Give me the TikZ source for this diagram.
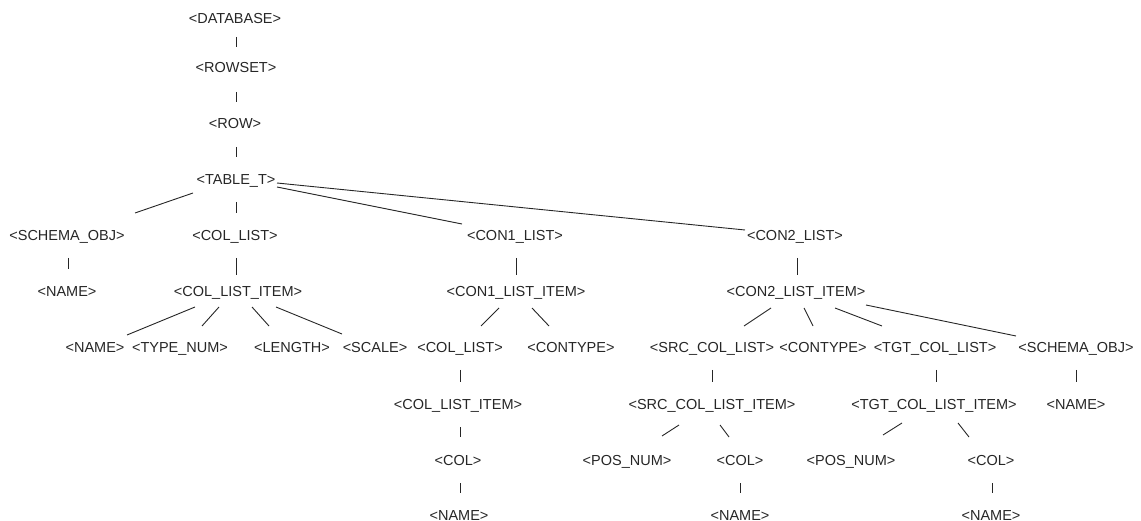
\documentclass[tikz,border=0pt]{standalone}
\usepackage{fontspec}
\setmainfont{Liberation Sans}
\definecolor{ink}{gray}{0.15}
\newcommand{\cn}[6]{\draw[edge] ([shift={(#2,#3)}]#1.center) -- ([shift={(#5,#6)}]#4.center);}
\begin{document}
\begin{tikzpicture}[x=1pt,y=-1pt,
  lbl/.style={inner sep=0pt,text height=10pt,text depth=0pt,anchor=center,text=ink,font=\fontsize{14.5}{16}\selectfont},
  edge/.style={draw=ink,line width=0.9pt}]
\useasboundingbox (0,0) rectangle (1141,521);
% row 0-3
\node[lbl] (db) at (235,19) {<DATABASE>};
\node[lbl] (rowset) at (236,68) {<ROWSET>};
\node[lbl] (row) at (235,124) {<ROW>};
\node[lbl] (tablet) at (236,180) {<TABLE\_T>};
% row 4
\node[lbl] (schema1) at (67,236) {<SCHEMA\_OBJ>};
\node[lbl] (collist1) at (235,236) {<COL\_LIST>};
\node[lbl] (con1) at (515,236) {<CON1\_LIST>};
\node[lbl] (con2) at (795,236) {<CON2\_LIST>};
% row 5
\node[lbl] (name1) at (67,292) {<NAME>};
\node[lbl] (colitem1) at (238,292) {<COL\_LIST\_ITEM>};
\node[lbl] (con1item) at (516,292) {<CON1\_LIST\_ITEM>};
\node[lbl] (con2item) at (796,292) {<CON2\_LIST\_ITEM>};
% row 6
\node[lbl] (nameA) at (95,348) {<NAME>};
\node[lbl] (typenum) at (180,348) {<TYPE\_NUM>};
\node[lbl] (length) at (292,348) {<LENGTH>};
\node[lbl] (scale) at (375,348) {<SCALE>};
\node[lbl] (collist2) at (460,348) {<COL\_LIST>};
\node[lbl] (contype1) at (571,348) {<CONTYPE>};
\node[lbl] (srclist) at (712,348) {<SRC\_COL\_LIST>};
\node[lbl] (contype2) at (823,348) {<CONTYPE>};
\node[lbl] (tgtlist) at (935,348) {<TGT\_COL\_LIST>};
\node[lbl] (schema2) at (1076,348) {<SCHEMA\_OBJ>};
% row 7
\node[lbl] (colitem2) at (458,404) {<COL\_LIST\_ITEM>};
\node[lbl] (srcitem) at (712,404) {<SRC\_COL\_LIST\_ITEM>};
\node[lbl] (tgtitem) at (934,404) {<TGT\_COL\_LIST\_ITEM>};
\node[lbl] (name2) at (1076,404) {<NAME>};
% row 8
\node[lbl] (col1) at (458,460) {<COL>};
\node[lbl] (posnum1) at (627,460) {<POS\_NUM>};
\node[lbl] (col2) at (740,460) {<COL>};
\node[lbl] (posnum2) at (851,460) {<POS\_NUM>};
\node[lbl] (col3) at (991,460) {<COL>};
% row 9
\node[lbl] (nameB) at (459,515) {<NAME>};
\node[lbl] (nameC) at (740,515) {<NAME>};
\node[lbl] (nameD) at (991,515) {<NAME>};
% connectors
\cn{db}{1}{18}{rowset}{0}{-21}
\cn{rowset}{0}{24}{row}{1}{-22}
\cn{row}{1}{23}{tablet}{0}{-23}
\cn{tablet}{-43}{13}{schema1}{68}{-23}
\cn{tablet}{0}{22}{collist1}{1}{-23}
\cn{tablet}{41}{7}{con1}{-53}{-12}
\cn{tablet}{41}{3}{con2}{-50}{-6}
\cn{schema1}{1}{22}{name1}{1}{-23}
\cn{collist1}{1}{22}{colitem1}{-2}{-17}
\cn{colitem1}{-43}{15}{nameA}{32}{-13}
\cn{colitem1}{-19}{15}{typenum}{22}{-22}
\cn{colitem1}{14}{15}{length}{-23}{-22}
\cn{colitem1}{38}{15}{scale}{-33}{-14}
\cn{con1}{1}{22}{con1item}{0}{-17}
\cn{con1item}{-17}{16}{collist2}{21}{-22}
\cn{con1item}{16}{16}{contype1}{-22}{-22}
\cn{con2}{2}{22}{con2item}{1}{-17}
\cn{con2item}{-25}{16}{srclist}{32}{-22}
\cn{con2item}{8}{16}{contype2}{-10}{-22}
\cn{con2item}{39}{16}{tgtlist}{-53}{-22}
\cn{con2item}{70}{13}{schema2}{-60}{-12}
\cn{collist2}{0}{22}{colitem2}{2}{-22}
\cn{srclist}{0}{22}{srcitem}{0}{-22}
\cn{tgtlist}{1}{22}{tgtitem}{2}{-22}
\cn{schema2}{0}{22}{name2}{0}{-22}
\cn{colitem2}{2}{23}{col1}{2}{-23}
\cn{srcitem}{-33}{21}{posnum1}{35}{-24}
\cn{srcitem}{8}{21}{col2}{-11}{-23}
\cn{tgtitem}{-32}{19}{posnum2}{32}{-25}
\cn{tgtitem}{24}{19}{col3}{-22}{-23}
\cn{col1}{2}{23}{nameB}{1}{-22}
\cn{col2}{0}{23}{nameC}{0}{-22}
\cn{col3}{1}{23}{nameD}{1}{-22}
\end{tikzpicture}
\end{document}
